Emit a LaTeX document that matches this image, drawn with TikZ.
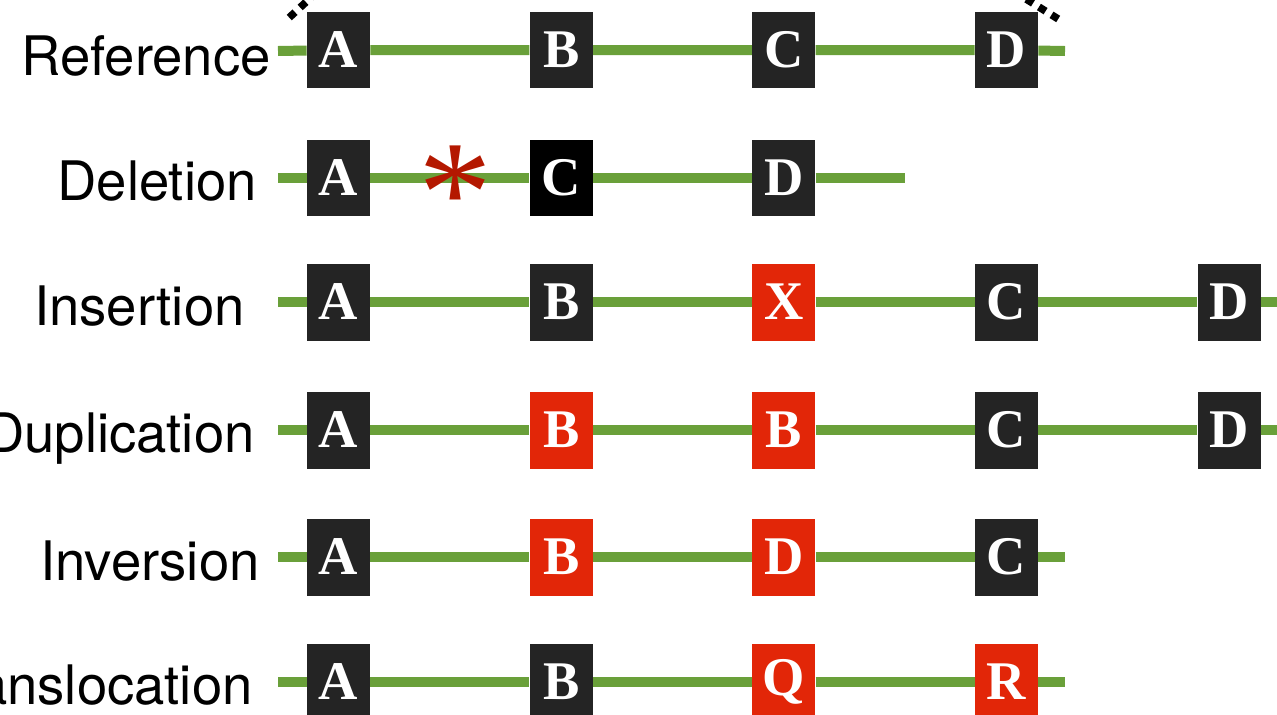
\documentclass[tikz,border=0pt]{standalone}
\usepackage{fontspec}
\setmainfont{TeX Gyre Heros}
\newfontfamily\genefont{Liberation Serif}
\usepackage{tikz}
\usetikzlibrary{positioning}
\definecolor{strandgreen}{RGB}{106,160,58}
\definecolor{genedark}{RGB}{36,36,36}
\definecolor{genered}{RGB}{226,38,8}
\definecolor{snpred}{RGB}{180,24,0}

\begin{document}
\begin{tikzpicture}[
  x=0.02cm, y=-0.02cm,
  node distance=3.18cm,
  gene/.style={
    rectangle, fill=genedark, text=white,
    minimum width=1.26cm, minimum height=1.54cm,
    inner sep=0pt,
    font=\genefont\bfseries\fontsize{31}{31}\selectfont,
  },
  changed/.style={gene, fill=genered},
  strand/.style={strandgreen, line width=0.2cm},
  rowlabel/.style={anchor=base east, inner sep=0pt,
    font=\fontsize{31}{31}\selectfont},
  zoomdots/.style={line width=0.15cm, line cap=rect,
    dash pattern=on 0.2pt off 0.29cm},
]
\useasboundingbox (0,0) rectangle (1277,714);
\clip (0,0) rectangle (1277,714);

% ── ROW 1: Reference ─────────────────────────────────────────────────────────
\node[rowlabel] (refLabel) at (271,75) {Reference};
\coordinate (refL) at (278,51);
\coordinate (refR) at (1065,51);
\node[gene] (refA) at (338.5,50) {A};
\node[gene, right=of refA] (refB) {B};
\node[gene, right=of refB] (refC) {C};
\node[gene, right=of refC] (refD) {D};

% ── zoom marks
\coordinate (zoomL) at (292,15);
\coordinate (zoomLend) at (318,-9);
\coordinate (zoomR) at (1055,17);
\coordinate (zoomRend) at (1018,-6);
\draw[zoomdots] (zoomL) -- (zoomLend);
\draw[zoomdots] (zoomR) -- (zoomRend);

% ── ROW 2: Deletion
\node[rowlabel] (delLabel) at (257,200) {Deletion};
\coordinate (delL) at (278,178);
\coordinate (delR) at (905,178);
\node[gene] (delA) at (338.5,178) {A};
\node[gene, fill=black, right=of delA] (delC) {C};
\node[gene, right=of delC] (delD) {D};

% ── ROW 3: Insertion
\node[rowlabel] (insLabel) at (245,325) {Insertion};
\coordinate (insL) at (278,302);
\coordinate (insR) at (1300,302);
\node[gene] (insA) at (338.5,302) {A};
\node[gene, right=of insA] (insB) {B};
\node[changed, right=of insB] (insX) {X};
\node[gene, right=of insX] (insC) {C};
\node[gene, right=of insC] (insD) {D};

% ── ROW 4: Duplication
\node[rowlabel] (dupLabel) at (255,452) {Duplication};
\coordinate (dupL) at (278,430);
\coordinate (dupR) at (1300,430);
\node[gene] (dupA) at (338.5,430) {A};
\node[changed, right=of dupA] (dupB) {B};
\node[changed, right=of dupB] (dupBB) {B};
\node[gene, right=of dupBB] (dupC) {C};
\node[gene, right=of dupC] (dupD) {D};

% ── ROW 5: Inversion
\node[rowlabel] (invLabel) at (260,580) {Inversion};
\coordinate (invL) at (278,557);
\coordinate (invR) at (1065,557);
\node[gene] (invA) at (338.5,557) {A};
\node[changed, right=of invA] (invB) {B};
\node[changed, right=of invB] (invD) {D};
\node[gene, right=of invD] (invC) {C};

% ── ROW 6: Translocation
\node[rowlabel] (traLabel) at (253,704) {Translocation};
\coordinate (traL) at (278,682);
\coordinate (traR) at (1065,682);
\node[gene] (traA) at (338.5,682) {A};
\node[gene, right=of traA] (traB) {B};
\node[changed, right=of traB] (traQ) {Q};
\node[changed, right=of traQ] (traR2) {R};

% ── Strands
\draw[strand] (refL) -- (refA) -- (refB) -- (refC) -- (refD) -- (refR);
\draw[strand] (delL) -- (delA) -- (delC) -- (delD) -- (delR);
\draw[strand] (insL) -- (insA) -- (insB) -- (insX) -- (insC) -- (insD) -- (insR);
\draw[strand] (dupL) -- (dupA) -- (dupB) -- (dupBB) -- (dupC) -- (dupD) -- (dupR);
\draw[strand] (invL) -- (invA) -- (invB) -- (invD) -- (invC) -- (invR);
\draw[strand] (traL) -- (traA) -- (traB) -- (traQ) -- (traR2) -- (traR);

% ── SNP mark on top of the strand
\node[text=snpred, inner sep=0pt, anchor=base,
      font=\genefont\fontsize{84}{84}\selectfont] (delStar) at (455,242) {*};

\end{tikzpicture}
\end{document}
